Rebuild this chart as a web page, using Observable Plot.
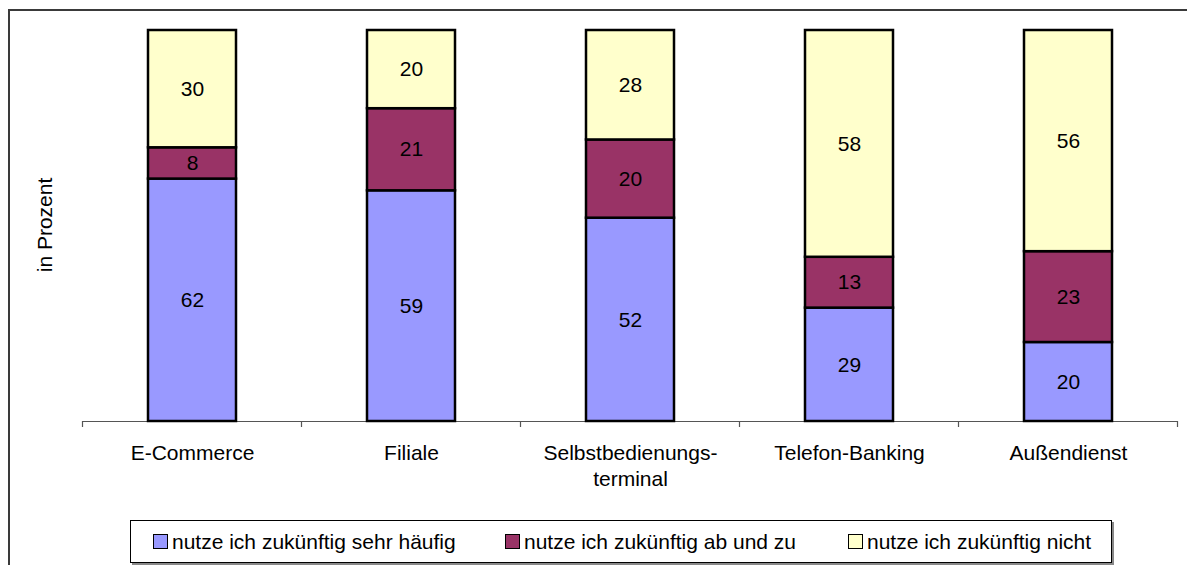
<!DOCTYPE html>
<html>
<head>
<meta charset="utf-8">
<script src="https://cdn.jsdelivr.net/npm/d3@7"></script>
<script src="https://cdn.jsdelivr.net/npm/@observablehq/plot@0.6"></script>
<style>
  html, body { margin: 0; padding: 0; background: #fff; overflow: hidden; }
  #wrap { position: relative; width: 1187px; height: 565px; overflow: hidden; font-family: "Liberation Sans", Arial, sans-serif; }
  #frame { position: absolute; left: 8px; top: 9px; width: 1300px; height: 700px; border: 2px solid #3a3a3a; box-sizing: border-box; pointer-events: none; }
  #chart { position: absolute; left: 0; top: 0; }
  #ylabel { position: absolute; left: 45px; top: 225px; transform: translate(-50%, -50%) rotate(-90deg); font-size: 21px; white-space: nowrap; color: #000; }
  #legend { position: absolute; left: 130px; top: 520px; width: 982px; height: 43px; border: 1px solid #000; box-sizing: border-box; box-shadow: 2px 2px 0 #888; background: #fff; }
  .item { position: absolute; top: 0; height: 41px; display: flex; align-items: center; font-size: 21px; color: #000; white-space: nowrap; }
  .sw { width: 13px; height: 13px; border: 1.5px solid #000; margin-right: 4px; }
</style>
</head>
<body>
<div id="wrap">
  <div id="chart"></div>
  <div id="frame"></div>
  <div id="ylabel">in Prozent</div>
  <div id="legend"></div>
</div>
<script>
const categories = ["E-Commerce", "Filiale", "Selbstbedienungs-\nterminal", "Telefon-Banking", "Außendienst"];
const series = ["nutze ich zukünftig sehr häufig", "nutze ich zukünftig ab und zu", "nutze ich zukünftig nicht"];
const sehrHaeufig = [62, 59, 52, 29, 20];
const abUndZu = [8, 21, 20, 13, 23];
const nicht = [30, 20, 28, 58, 56];
const colors = ["#9999ff", "#993366", "#ffffcc"];
const legendLeft = [22, 374, 717];

const seriesValues = [sehrHaeufig, abUndZu, nicht];
const rows = [];
series.forEach((s, si) => {
  categories.forEach((c, ci) => {
    rows.push({cat: c, series: s, value: seriesValues[si][ci]});
  });
});

function boundaryTicks(index, scales, values, dims) {
  const x = scales.x;
  const bw = typeof x.bandwidth === "function" ? x.bandwidth() : x.bandwidth;
  const step = x(categories[1]) - x(categories[0]);
  const gap = step - bw;
  const y0 = dims.height - dims.marginBottom;
  const g = d3.create("svg:g").attr("stroke", "#555").attr("stroke-width", 1.2);
  for (let i = 0; i <= categories.length; i++) {
    const xx = x(categories[0]) - gap / 2 + i * step;
    g.append("line").attr("x1", xx).attr("x2", xx).attr("y1", y0).attr("y2", y0 + 6);
  }
  return g.node();
}

const chart = Plot.plot({
  width: 1187,
  height: 500,
  marginLeft: 82,
  marginRight: 9,
  marginTop: 30,
  marginBottom: 79,
  x: {domain: categories, paddingInner: 0.6, paddingOuter: 0.3, axis: null},
  y: {domain: [0, 1], axis: null},
  color: {domain: series, range: colors},
  style: {background: "transparent", fontFamily: "'Liberation Sans', Arial, sans-serif", fontSize: "21px", color: "#000"},
  marks: [
    Plot.ruleY([0], {stroke: "#555", strokeWidth: 1.2}),
    boundaryTicks,
    Plot.barY(rows, Plot.stackY({offset: "normalize", x: "cat", y: "value", fill: "series", stroke: "#000", strokeWidth: 2.5})),
    Plot.text(rows, Plot.stackY({offset: "normalize", x: "cat", y: "value", text: d => String(d.value), fontSize: 21, fill: "#000"})),
    Plot.text(categories, {x: d => d, frameAnchor: "bottom", text: d => d, lineAnchor: "top", dy: 21, lineHeight: 1.2, fontSize: 21, fill: "#000"})
  ]
});
document.getElementById("chart").appendChild(chart);

const legend = document.getElementById("legend");
series.forEach((s, i) => {
  const it = document.createElement("div");
  it.className = "item";
  it.style.left = legendLeft[i] + "px";
  const sw = document.createElement("div");
  sw.className = "sw";
  sw.style.background = colors[i];
  const t = document.createElement("span");
  t.textContent = s;
  it.appendChild(sw);
  it.appendChild(t);
  legend.appendChild(it);
});
</script>
</body>
</html>
